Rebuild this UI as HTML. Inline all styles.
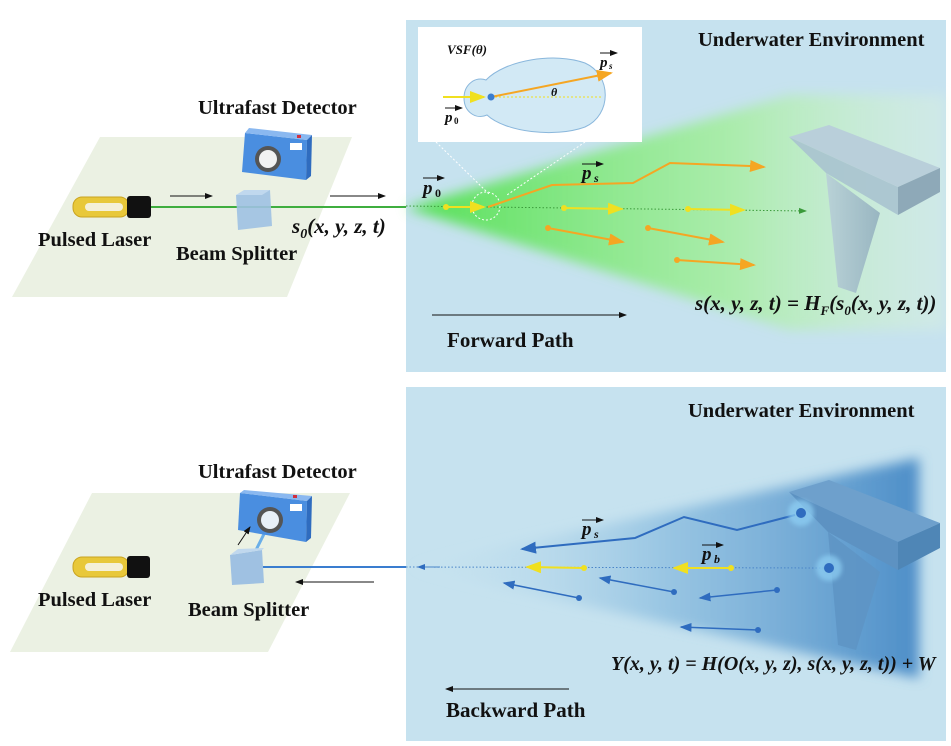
<!DOCTYPE html>
<html><head><meta charset="utf-8"><style>
html,body{margin:0;padding:0;background:#fff;width:951px;height:746px;overflow:hidden}
text{font-family:"Liberation Serif",serif;font-weight:bold;fill:#111}
.m{font-style:italic}
</style></head><body>
<svg width="951" height="746" viewBox="0 0 951 746" xmlns="http://www.w3.org/2000/svg">
<defs>
<linearGradient id="gbeam" x1="0" x2="1" y1="0" y2="0">
<stop offset="0" stop-color="#4fe04f" stop-opacity="0.95"/>
<stop offset="0.6" stop-color="#9ef08e" stop-opacity="0.7"/>
<stop offset="1" stop-color="#e4f8d8" stop-opacity="0.3"/>
</linearGradient>
<linearGradient id="bbeam" x1="0" x2="1" y1="0" y2="0">
<stop offset="0" stop-color="#c7e3f1" stop-opacity="0"/>
<stop offset="0.5" stop-color="#8ebfe0" stop-opacity="0.8"/>
<stop offset="1" stop-color="#4d8ec8" stop-opacity="1"/>
</linearGradient>
<linearGradient id="stemT" x1="0" x2="1"><stop offset="0" stop-color="#b8cfd8"/><stop offset="1" stop-color="#93b0be"/></linearGradient>
<filter id="bl"><feGaussianBlur stdDeviation="6"/></filter>
<filter id="bl2"><feGaussianBlur stdDeviation="2"/></filter>
<marker id="ak" markerWidth="8" markerHeight="8" refX="7" refY="4" orient="auto"><path d="M0,1 L8,4 L0,7z" fill="#111"/></marker>
<marker id="ao" markerWidth="8" markerHeight="8" refX="7" refY="4" orient="auto"><path d="M0,1 L8,4 L0,7z" fill="#f5a623"/></marker>
<marker id="ay" markerWidth="8" markerHeight="8" refX="7" refY="4" orient="auto"><path d="M0,1 L8,4 L0,7z" fill="#f0e020"/></marker>
<marker id="ab" markerWidth="8" markerHeight="8" refX="7" refY="4" orient="auto"><path d="M0,1 L8,4 L0,7z" fill="#2f6cbf"/></marker>
<marker id="ag" markerWidth="8" markerHeight="8" refX="7" refY="4" orient="auto"><path d="M0,1 L8,4 L0,7z" fill="#3a9a3a"/></marker>
</defs>

<!-- planes -->
<polygon points="12,297 100,137 352,137 287,297" fill="#ebf1e3"/>
<polygon points="10,652 92,493 350,493 268,652" fill="#ebf1e3"/>

<!-- top panel -->
<rect x="406" y="20" width="540" height="352" fill="#c6e2ef"/>
<polygon points="406,208 790,95 946,95 946,330 790,330" fill="url(#gbeam)" filter="url(#bl)"/>
<!-- T object top -->
<polygon points="789,137 898,187 898,215 826,173" fill="#a9c3cf" opacity="0.9"/>
<polygon points="826,173 880,213 856,293 838,287" fill="url(#stemT)" opacity="0.9"/>
<polygon points="789,137 829,125 940,168 898,187" fill="#b9cfda"/>
<polygon points="898,187 940,168 940,192 898,215" fill="#8ea9b8"/>

<!-- inset -->
<rect x="418" y="27" width="224" height="115" fill="#fff"/>
<path d="M486,80 C505,60 555,52 585,63 C612,75 612,115 585,127 C555,138 505,132 487,115 C476,120 464,112 464,98 C464,84 476,76 486,80z" fill="#d2e9f5" stroke="#8ab7dc"/>
<line x1="443" y1="97" x2="484" y2="97" stroke="#f0e020" stroke-width="2" marker-end="url(#ay)"/>
<line x1="491" y1="97" x2="602" y2="97" stroke="#f0e020" stroke-dasharray="2,2"/>
<line x1="491" y1="97" x2="611" y2="73" stroke="#f5a623" stroke-width="2" marker-end="url(#ao)"/>
<circle cx="491" cy="97" r="3.5" fill="#3a7dcf"/>
<text x="447" y="54" font-size="13" class="m">VSF(θ)</text>
<text x="551" y="96" font-size="12" class="m">θ</text>
<text x="600" y="67" font-size="15" class="m">p</text><text x="609" y="69" font-size="9" class="m">s</text>
<line x1="600" y1="53" x2="617" y2="53" stroke="#111" marker-end="url(#ak)"/>
<text x="445" y="122" font-size="15" class="m">p</text><text x="454" y="124" font-size="9">0</text>
<line x1="445" y1="108" x2="462" y2="108" stroke="#111" marker-end="url(#ak)"/>
<line x1="436" y1="142" x2="490" y2="195" stroke="#fff" stroke-dasharray="2,2"/>
<line x1="585" y1="142" x2="507" y2="195" stroke="#fff" stroke-dasharray="2,2"/>
<circle cx="486" cy="206" r="14" fill="none" stroke="#fff" stroke-dasharray="2,2"/>

<!-- top rays -->
<line x1="406" y1="206" x2="806" y2="211" stroke="#3a9a3a" stroke-dasharray="1.5,2" marker-end="url(#ag)"/>
<g stroke="#f0e020" stroke-width="2"><line x1="446" y1="207" x2="484" y2="207" marker-end="url(#ay)"/><line x1="564" y1="208" x2="622" y2="209" marker-end="url(#ay)"/><line x1="688" y1="209" x2="744" y2="210" marker-end="url(#ay)"/></g>
<g fill="#f0e020"><circle cx="446" cy="207" r="3"/><circle cx="564" cy="208" r="3"/><circle cx="688" cy="209" r="3"/></g>
<polyline points="488,207 552,185 633,183 670,163 750,166" fill="none" stroke="#f5a623" stroke-width="2"/>
<line x1="750" y1="166" x2="764" y2="167" stroke="#f5a623" stroke-width="2" marker-end="url(#ao)"/>
<g stroke="#f5a623" stroke-width="2"><line x1="548" y1="228" x2="623" y2="242" marker-end="url(#ao)"/><line x1="648" y1="228" x2="723" y2="242" marker-end="url(#ao)"/><line x1="677" y1="260" x2="754" y2="265" marker-end="url(#ao)"/></g>
<g fill="#f5a623"><circle cx="548" cy="228" r="3"/><circle cx="648" cy="228" r="3"/><circle cx="677" cy="260" r="3"/></g>
<text x="423" y="194" font-size="19" class="m">p</text><text x="435" y="197" font-size="12">0</text>
<line x1="423" y1="178" x2="444" y2="178" stroke="#111" marker-end="url(#ak)"/>
<text x="582" y="179" font-size="19" class="m">p</text><text x="594" y="182" font-size="12" class="m">s</text>
<line x1="582" y1="164" x2="603" y2="164" stroke="#111" marker-end="url(#ak)"/>
<text x="698" y="46" font-size="20.5">Underwater Environment</text>
<text x="695" y="310" font-size="21" class="m">s(x, y, z, t) = H<tspan font-size="13" dy="5">F</tspan><tspan dy="-5">(s</tspan><tspan font-size="13" dy="5">0</tspan><tspan dy="-5">(x, y, z, t))</tspan></text>
<line x1="432" y1="315" x2="626" y2="315" stroke="#111" marker-end="url(#ak)"/>
<text x="447" y="347" font-size="21">Forward Path</text>

<!-- top left components -->
<line x1="150" y1="207" x2="406" y2="207" stroke="#7fe07f" stroke-width="6" opacity="0.6" filter="url(#bl2)"/>
<line x1="150" y1="207" x2="406" y2="207" stroke="#3fae3f" stroke-width="2"/>
<rect x="73" y="197" width="56" height="20" rx="9" fill="#e8c83a" stroke="#c9a420"/>
<rect x="85" y="203" width="38" height="8" rx="4" fill="#f4f0d8"/>
<rect x="127" y="196" width="24" height="22" rx="3" fill="#111"/>
<polygon points="236,195 270,190 272,226 238,230" fill="#9fc1e2" opacity="0.9"/>
<polygon points="236,195 244,190 270,190 262,195" fill="#c0d8ee"/>
<polygon points="245,133 307,140 306,180 242,172" fill="#4a8ee0"/>
<polygon points="245,133 249,128 312,135 307,140" fill="#8ab8f0"/>
<polygon points="307,140 312,135 311,176 306,180" fill="#2f6cbf"/>
<circle cx="268" cy="159" r="13" fill="#555"/><circle cx="268" cy="159" r="9" fill="#f2f2f2"/>
<rect x="290" y="143" width="12" height="7" fill="#fff"/><rect x="297" y="135" width="4" height="3" fill="#d03040"/>
<line x1="170" y1="196" x2="212" y2="196" stroke="#111" marker-end="url(#ak)"/>
<line x1="330" y1="196" x2="385" y2="196" stroke="#111" marker-end="url(#ak)"/>
<text x="198" y="114" font-size="20.5">Ultrafast Detector</text>
<text x="38" y="246" font-size="20.5">Pulsed Laser</text>
<text x="176" y="260" font-size="20.5">Beam Splitter</text>
<text x="292" y="233" font-size="21" class="m">s<tspan font-size="14" dy="5">0</tspan><tspan dy="-5">(x, y, z, t)</tspan></text>

<!-- bottom panel -->
<rect x="406" y="387" width="540" height="354" fill="#c6e2ef"/>
<polygon points="406,567 919,458 919,678" fill="url(#bbeam)" filter="url(#bl)"/>
<polygon points="789,492 898,542 898,570 828,532" fill="#5d92c2"/>
<polygon points="828,532 880,572 856,650 838,645" fill="#5e94c4" opacity="0.85"/>
<polygon points="789,492 829,480 940,523 898,542" fill="#6ea0cc"/>
<polygon points="898,542 940,523 940,548 898,570" fill="#4f86b6"/>
<line x1="406" y1="567" x2="825" y2="568" stroke="#4a85c8" stroke-dasharray="1.5,2"/>
<line x1="440" y1="567" x2="418" y2="567" stroke="#4a85c8" marker-end="url(#ab)"/>
<g stroke="#f0e020" stroke-width="2"><line x1="584" y1="568" x2="527" y2="567" marker-end="url(#ay)"/><line x1="731" y1="568" x2="674" y2="568" marker-end="url(#ay)"/></g>
<g fill="#f0e020"><circle cx="584" cy="568" r="3"/><circle cx="731" cy="568" r="3"/></g>
<polyline points="795,515 737,530 684,517 635,538 522,549" fill="none" stroke="#2f6cbf" stroke-width="2" marker-end="url(#ab)"/>
<g stroke="#2f6cbf" stroke-width="1.5"><line x1="579" y1="598" x2="504" y2="583" marker-end="url(#ab)"/><line x1="674" y1="592" x2="600" y2="578" marker-end="url(#ab)"/><line x1="777" y1="590" x2="700" y2="598" marker-end="url(#ab)"/><line x1="758" y1="630" x2="681" y2="627" marker-end="url(#ab)"/></g>
<g fill="#2f6cbf"><circle cx="579" cy="598" r="3"/><circle cx="674" cy="592" r="3"/><circle cx="777" cy="590" r="3"/><circle cx="758" cy="630" r="3"/></g>
<circle cx="801" cy="513" r="13" fill="#8fd0f5" opacity="0.7" filter="url(#bl2)"/><circle cx="801" cy="513" r="5" fill="#2f6cbf"/>
<circle cx="829" cy="568" r="13" fill="#8fd0f5" opacity="0.7" filter="url(#bl2)"/><circle cx="829" cy="568" r="5" fill="#2f6cbf"/>
<text x="582" y="535" font-size="19" class="m">p</text><text x="594" y="538" font-size="12" class="m">s</text>
<line x1="582" y1="520" x2="603" y2="520" stroke="#111" marker-end="url(#ak)"/>
<text x="702" y="560" font-size="19" class="m">p</text><text x="714" y="563" font-size="12" class="m">b</text>
<line x1="702" y1="545" x2="723" y2="545" stroke="#111" marker-end="url(#ak)"/>
<text x="688" y="417" font-size="20.5">Underwater Environment</text>
<text x="611" y="670" font-size="20" class="m">Y(x, y, t) = H(O(x, y, z), s(x, y, z, t)) + W</text>
<line x1="569" y1="689" x2="446" y2="689" stroke="#111" marker-end="url(#ak)"/>
<text x="446" y="717" font-size="21">Backward Path</text>

<!-- bottom left components -->
<line x1="262" y1="567" x2="406" y2="567" stroke="#8ec0ec" stroke-width="6" opacity="0.6" filter="url(#bl2)"/>
<line x1="262" y1="567" x2="406" y2="567" stroke="#3a7dcf" stroke-width="2"/>
<line x1="256" y1="550" x2="270" y2="522" stroke="#6aaee8" stroke-width="3"/>
<rect x="73" y="557" width="56" height="20" rx="9" fill="#e8c83a" stroke="#c9a420"/>
<rect x="85" y="563" width="38" height="8" rx="4" fill="#f4f0d8"/>
<rect x="127" y="556" width="23" height="22" rx="3" fill="#111"/>
<polygon points="230,555 262,550 264,583 232,585" fill="#9fc1e2"/>
<polygon points="230,555 238,549 264,548 262,550" fill="#c0d8ee"/>
<polygon points="240,493 307,501 306,542 238,530" fill="#4a8ee0"/>
<polygon points="240,493 244,490 312,496 307,501" fill="#8ab8f0"/>
<polygon points="307,501 312,496 311,538 306,542" fill="#2f6cbf"/>
<circle cx="270" cy="520" r="13" fill="#555"/><circle cx="270" cy="520" r="9" fill="#e8f0f8"/>
<rect x="290" y="504" width="12" height="7" fill="#fff"/><rect x="293" y="495" width="4" height="3" fill="#d03040"/>
<line x1="238" y1="545" x2="250" y2="527" stroke="#111" marker-end="url(#ak)"/>
<line x1="374" y1="582" x2="296" y2="582" stroke="#111" marker-end="url(#ak)"/>
<text x="198" y="478" font-size="20.5">Ultrafast Detector</text>
<text x="38" y="606" font-size="20.5">Pulsed Laser</text>
<text x="188" y="616" font-size="20.5">Beam Splitter</text>
</svg>
</body></html>
